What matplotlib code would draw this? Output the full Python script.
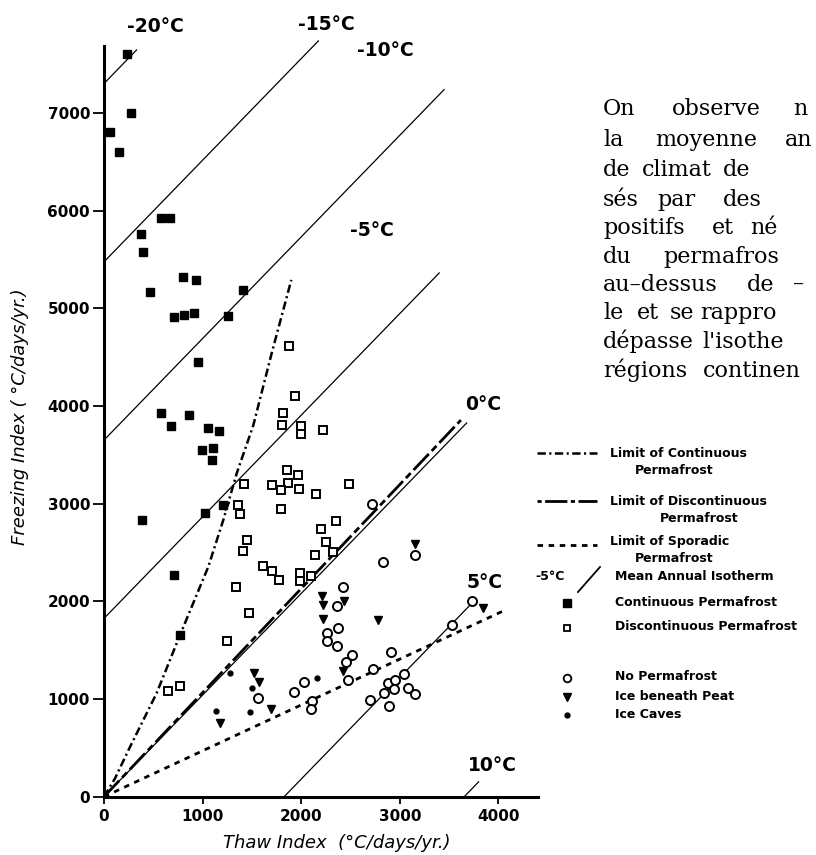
import numpy as np
import matplotlib.pyplot as plt
from matplotlib.lines import Line2D

plt.rcParams['lines.scale_dashes'] = False

W, H = 816, 855

# Indices de gel / degel (degres-jours par an) des stations
cont_T = [236, 274, 61, 152, 578, 669, 379, 392, 798, 930, 467, 1413, 710, 811, 916,
          1261, 957, 575, 865, 683, 1051, 1166, 991, 1102, 1095, 382, 1024, 1210, 713, 771]
cont_F = [7602, 6995, 6807, 6599, 5926, 5926, 5756, 5575, 5316, 5289, 5169, 5186, 4913, 4930, 4948,
          4923, 4452, 3924, 3907, 3797, 3771, 3746, 3549, 3572, 3446, 2832, 2900, 2986, 2269, 1655]

disc_T = [1876, 1937, 1812, 1802, 1998, 1998, 2218, 1859, 1971, 1700, 1863, 1795, 1977, 1417, 2150,
          2481, 1362, 1382, 1798, 2353, 2198, 2248, 2325, 2140, 1447, 1413, 1612, 1707, 1775, 1339,
          1474, 1244, 1988, 1988, 2096, 771, 646]
disc_F = [4613, 4101, 3931, 3805, 3797, 3712, 3753, 3344, 3296, 3190, 3208, 3139, 3153, 3197, 3095,
          3197, 2982, 2890, 2941, 2825, 2740, 2604, 2505, 2471, 2627, 2515, 2362, 2310, 2218, 2149,
          1877, 1597, 2293, 2211, 2259, 1136, 1085]

none_T = [2833, 3154, 2427, 2359, 2369, 2265, 2258, 2359, 2518, 2451, 2471, 2725, 2911, 2031, 1930,
          2113, 2099, 1565, 2698, 2840, 2884, 2951, 3043, 2944, 3086, 3154, 2890, 3526, 3735, 2721]
none_F = [2405, 2474, 2149, 1952, 1724, 1679, 1597, 1542, 1450, 1382, 1194, 1304, 1478, 1177, 1075,
          983, 894, 1007, 990, 1065, 1161, 1194, 1256, 1099, 1116, 1051, 928, 1757, 2006, 2993]

peat_T = [2214, 2224, 2434, 2218, 2776, 2427, 1521, 1569, 1697, 1176, 3154, 3847, 1230]
peat_F = [2054, 1962, 2003, 1816, 1809, 1290, 1269, 1177, 894, 757, 2586, 1928, 2975]

cave_T = [2164, 1501, 1481, 1136, 1278]
cave_F = [1218, 1110, 870, 880, 1263]

# limites du pergelisol
lim_cont_T = [0, 112, 264, 534, 771, 1058, 1210, 1346, 1514, 1701, 1900]
lim_cont_F = [0, 188, 510, 1060, 1655, 2354, 2832, 3310, 3800, 4540, 5290]
lim_disc_T = [0, 3620]
lim_disc_F = [0, 3855]
lim_spor_T = [0, 4070]
lim_spor_F = [0, 1911]

# isothermes annuelles moyennes : F = pente * T + ordonnee
iso_temp = [-20, -15, -10, -5, 0, 5, 10]
iso_icpt = [7300, 5475, 3650, 1825, 0, -1900, -3800]
iso_t0 = [0, 0, 0, 0, 0, 1827, 3654]
iso_t1 = [330, 2174, 3450, 3400, 3678, 3740, 3800]
iso_slope = 1.04

x_ticks = [0, 1000, 2000, 3000, 4000]
y_ticks = [0, 1000, 2000, 3000, 4000, 5000, 6000, 7000]


def fx(px):
    return px / W


def fy(py):
    return 1 - py / H


fig = plt.figure(figsize=(W / 100, H / 100), dpi=100)
ax = fig.add_axes([fx(104), fy(796.7), fx(537.8) - fx(104), fy(46.4) - fy(796.7)])
ax.set_xlim(0, 4400)
ax.set_ylim(0, 7680)

k = 'black'
dash_cont = (6, 2.5, 1.5, 2.5)
dash_disc = (16, 3, 5, 3)
dash_spor = (4, 4)

for t, b, t0, t1 in zip(iso_temp, iso_icpt, iso_t0, iso_t1):
    tt = np.array([t0, t1])
    ax.plot(tt, iso_slope * tt + b, color=k, lw=0.9, clip_on=False)

ax.plot(lim_cont_T, lim_cont_F, color=k, lw=1.8, dashes=dash_cont)
ax.plot(lim_disc_T, lim_disc_F, color=k, lw=2.0, dashes=dash_disc)
ax.plot(lim_spor_T, lim_spor_F, color=k, lw=2.0, dashes=dash_spor)

ax.plot(cont_T, cont_F, 's', ms=6, color=k, mec=k, clip_on=False)
ax.plot(disc_T, disc_F, 's', ms=5.5, mfc='white', mec=k, mew=1.4)
ax.plot(none_T, none_F, 'o', ms=6.5, mfc='white', mec=k, mew=1.4)
ax.plot(peat_T, peat_F, 'v', ms=6, color=k)
ax.plot(cave_T, cave_F, 'o', ms=3.5, color=k)

for s in ['top', 'right']:
    ax.spines[s].set_visible(False)
for s in ['left', 'bottom']:
    ax.spines[s].set_linewidth(2.2)
ax.set_xticks(x_ticks)
ax.set_yticks(y_ticks)
ax.tick_params(axis='y', length=8, width=1.3, pad=2)
ax.tick_params(axis='x', length=5, width=1.3, pad=4)
for lab in ax.get_xticklabels() + ax.get_yticklabels():
    lab.set_fontweight('bold')
    lab.set_fontsize(11)

fig.text(fx(20), fy(417), 'Freezing Index ( °C/days/yr.)', rotation=90,
         ha='center', va='center', fontsize=13, style='italic')
fig.text(fx(337), fy(843), 'Thaw Index  (°C/days/yr.)', ha='center', va='center',
         fontsize=13, style='italic')

# etiquettes des isothermes
iso_lab = [(155, 26), (326, 24), (385, 50), (372, 231), (483, 404), (485, 583), (492, 765)]
for t, (px, py) in zip(iso_temp, iso_lab):
    fig.text(fx(px), fy(py), f'{t}°C', ha='center', va='center',
             fontsize=13.5, fontweight='bold')

# legende dessinee a la main
lx0, lx1 = 537, 597
lg = dict(fontsize=9, fontweight='bold', va='center', ha='left')
fig.add_artist(Line2D([fx(lx0), fx(lx1)], [fy(453)] * 2, color=k, lw=1.8, dashes=dash_cont))
fig.text(fx(610), fy(453), 'Limit of Continuous', **lg)
fig.text(fx(635), fy(470), 'Permafrost', **lg)
fig.add_artist(Line2D([fx(lx0), fx(lx1)], [fy(501)] * 2, color=k, lw=2.0, dashes=(3, 2.5, 16, 2.5)))
fig.text(fx(610), fy(501), 'Limit of Discontinuous', **lg)
fig.text(fx(660), fy(519), 'Permafrost', **lg)
fig.add_artist(Line2D([fx(lx0), fx(lx1)], [fy(545)] * 2, color=k, lw=2.0, dashes=dash_spor))
fig.text(fx(610), fy(541), 'Limit of Sporadic', **lg)
fig.text(fx(635), fy(559), 'Permafrost', **lg)
fig.text(fx(535), fy(577), '-5°C', **lg)
fig.add_artist(Line2D([fx(578), fx(600)], [fy(592), fy(567)], color=k, lw=1.3))
fig.text(fx(615), fy(577), 'Mean Annual Isotherm', **lg)
mk = [('s', dict(mfc=k, ms=5.5), 603, 'Continuous Permafrost'),
      ('s', dict(mfc='white', ms=5, mew=1.3), 628, 'Discontinuous Permafrost'),
      ('o', dict(mfc='white', ms=5.5, mew=1.3), 678, 'No Permafrost'),
      ('v', dict(mfc=k, ms=5.5), 697, 'Ice beneath Peat'),
      ('o', dict(mfc=k, ms=3.5), 715, 'Ice Caves')]
for m, st, py, lab in mk:
    fig.add_artist(Line2D([fx(567)], [fy(py)], marker=m, color=k, mec=k, ls='none', **st))
    fig.text(fx(615), fy(py - 1), lab, **lg)

# texte de la page, coupe au bord droit
para = [
    (115, [(603, 'On'), (672, 'observe'), (793, 'n')]),
    (146, [(603, 'la'), (655, 'moyenne'), (785, 'an')]),
    (176, [(603, 'de'), (642, 'climat'), (723, 'de')]),
    (206, [(603, 'sés'), (657, 'par'), (723, 'des')]),
    (234, [(603, 'positifs'), (712, 'et'), (750, 'né')]),
    (263, [(603, 'du'), (663, 'permafros')]),
    (291, [(603, 'au–dessus'), (747, 'de'), (793, '–')]),
    (319, [(603, 'le'), (637, 'et'), (670, 'se'), (700, 'rappro')]),
    (348, [(603, 'dépasse'), (702, "l'isothe")]),
    (377, [(603, 'régions'), (703, 'continen')]),
]
for py, words in para:
    for px, w in words:
        fig.text(fx(px), fy(py), w, fontsize=16, family='DejaVu Serif',
                 ha='left', va='baseline')

fig.savefig('out.png', dpi=100)
